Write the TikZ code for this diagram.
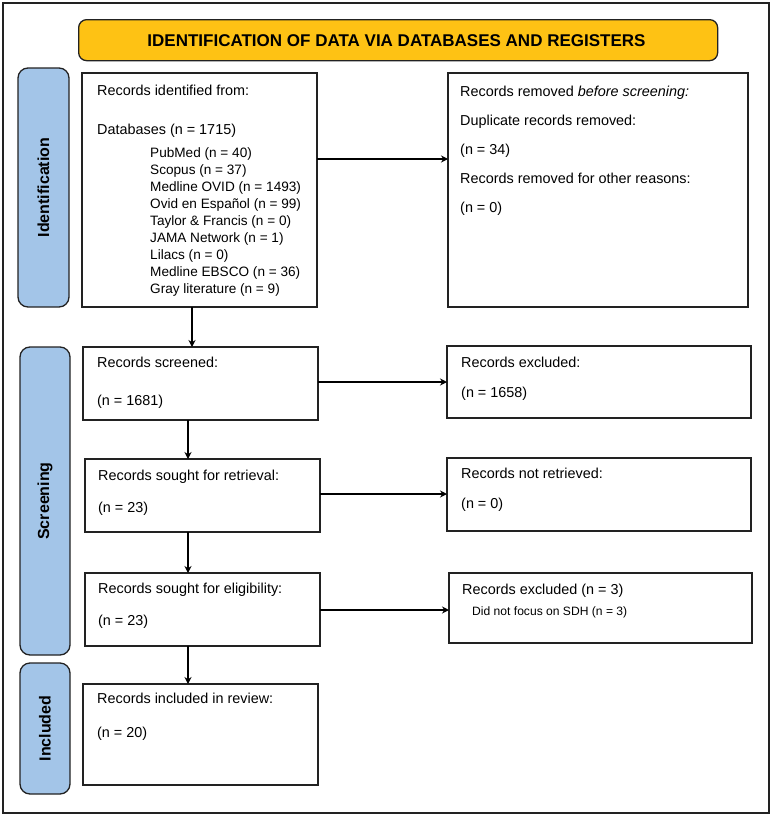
\documentclass[tikz,border=0pt]{standalone}
\usepackage{fontspec}
\setmainfont{Liberation Sans}
\usetikzlibrary{arrows.meta}
\definecolor{gold}{HTML}{FEC214}
\definecolor{sideblue}{HTML}{A3C5E8}
\definecolor{edgec}{HTML}{222222}
\begin{document}
\begin{tikzpicture}[x=1pt,y=-1pt,
  box/.style={draw=edgec,line width=1.2pt,fill=white,anchor=north west,inner sep=0pt,outer sep=0pt},
  sidebox/.style={draw=edgec,line width=1.3pt,fill=sideblue,rounded corners=10pt,anchor=north west,inner sep=0pt,outer sep=0pt},
  sidetxt/.style={rotate=90,font=\fontsize{16}{18}\selectfont\bfseries,inner sep=0pt},
  txt/.style={anchor=base west,inner sep=0pt,font=\fontsize{14.4}{17}\selectfont},
  listtxt/.style={anchor=base west,inner sep=0pt,font=\fontsize{13.6}{15}\selectfont},
  smalltxt/.style={anchor=base west,inner sep=0pt,font=\fontsize{12.1}{14}\selectfont},
  arr/.style={draw=black,line width=1.2pt,-{Stealth[length=7pt,width=7pt]}}
]
\useasboundingbox (0,0) rectangle (771,814);
% outer frame
\node[draw=edgec,line width=1.5pt,anchor=north west,inner sep=0pt,minimum width=766pt,minimum height=810pt] (frame) at (2,2) {};
% banner
\node[draw=edgec,line width=1.3pt,fill=gold,rounded corners=8pt,anchor=north west,inner sep=0pt,minimum width=639pt,minimum height=41pt] (banner) at (78,19) {};
\node[font=\fontsize{17}{19}\selectfont\bfseries,inner sep=0pt,anchor=base] (title) at (396.5,46) {IDENTIFICATION OF DATA VIA DATABASES AND REGISTERS};
% side labels
\node[sidebox,minimum width=51pt,minimum height=239pt] (sid) at (18,68) {};
\node[sidetxt] (sidt) at (sid.center) {Identification};
\node[sidebox,minimum width=50pt,minimum height=308pt] (sscr) at (20,347) {};
\node[sidetxt] (sscrt) at (sscr.center) {Screening};
\node[sidebox,minimum width=50pt,minimum height=131pt] (sinc) at (20,663) {};
\node[sidetxt] (sinct) at (sinc.center) {Included};
% boxes
\node[box,minimum width=235pt,minimum height=234pt] (id) at (82,73) {};
\node[box,minimum width=300pt,minimum height=234pt] (rm) at (448,73) {};
\node[box,minimum width=235pt,minimum height=73pt] (scr) at (83,347) {};
\node[box,minimum width=304pt,minimum height=72pt] (exc) at (447,346) {};
\node[box,minimum width=235pt,minimum height=73pt] (ret) at (85,459) {};
\node[box,minimum width=304pt,minimum height=73pt] (nret) at (447,458) {};
\node[box,minimum width=235pt,minimum height=73pt] (elig) at (85,573) {};
\node[box,minimum width=303pt,minimum height=70pt] (exc3) at (449,573) {};
\node[box,minimum width=235pt,minimum height=101pt] (inc) at (83,684) {};
% texts: identification
\node[txt] (t1) at (97,95) {Records identified from:};
\node[txt] (t2) at (97,134) {Databases (n = 1715)};
\node[listtxt] (l1) at (150,157) {PubMed (n = 40)};
\node[listtxt] (l2) at (150,174) {Scopus (n = 37)};
\node[listtxt] (l3) at (150,191) {Medline OVID (n = 1493)};
\node[listtxt] (l4) at (150,208) {Ovid en Español (n = 99)};
\node[listtxt] (l5) at (150,225) {Taylor \& Francis (n = 0)};
\node[listtxt] (l6) at (150,242) {JAMA Network (n = 1)};
\node[listtxt] (l7) at (150,259) {Lilacs (n = 0)};
\node[listtxt] (l8) at (150,276) {Medline EBSCO (n = 36)};
\node[listtxt] (l9) at (150,293) {Gray literature (n = 9)};
% removed
\node[txt] (r1) at (460,96) {Records removed \textit{before screening:}};
\node[txt] (r2) at (460,125) {Duplicate records removed:};
\node[txt] (r3) at (460,154) {(n = 34)};
\node[txt] (r4) at (460,183) {Records removed for other reasons:};
\node[txt] (r5) at (460,212) {(n = 0)};
% screening
\node[txt] (s1) at (97,367) {Records screened:};
\node[txt] (s2) at (97,405) {(n = 1681)};
\node[txt] (e1) at (461,367) {Records excluded:};
\node[txt] (e2) at (461,397) {(n = 1658)};
\node[txt] (g1) at (98,480) {Records sought for retrieval:};
\node[txt] (g2) at (98,512) {(n = 23)};
\node[txt] (n1) at (461,478) {Records not retrieved:};
\node[txt] (n2) at (461,508) {(n = 0)};
\node[txt] (el1) at (98,593) {Records sought for eligibility:};
\node[txt] (el2) at (98,625) {(n = 23)};
\node[txt] (x1) at (462,594) {Records excluded (n = 3)};
\node[smalltxt] (x2) at (472,615) {Did not focus on SDH (n = 3)};
\node[txt] (i1) at (97,703) {Records included in review:};
\node[txt] (i2) at (97,737) {(n = 20)};
% connectors
\coordinate (h1) at (317,159);
\draw[arr] (h1) -- (h1 -| rm.west);
\coordinate (h2) at (318,382);
\draw[arr] (h2) -- (h2 -| exc.west);
\coordinate (h3) at (320,494);
\draw[arr] (h3) -- (h3 -| nret.west);
\coordinate (h4) at (320,610);
\draw[arr] (h4) -- (h4 -| exc3.west);
\coordinate (v1) at (192,307);
\draw[arr] (v1) -- (v1 |- scr.north);
\coordinate (v2) at (188,420);
\draw[arr] (v2) -- (v2 |- ret.north);
\coordinate (v3) at (188,532);
\draw[arr] (v3) -- (v3 |- elig.north);
\coordinate (v4) at (188,646);
\draw[arr] (v4) -- (v4 |- inc.north);
\end{tikzpicture}
\end{document}
